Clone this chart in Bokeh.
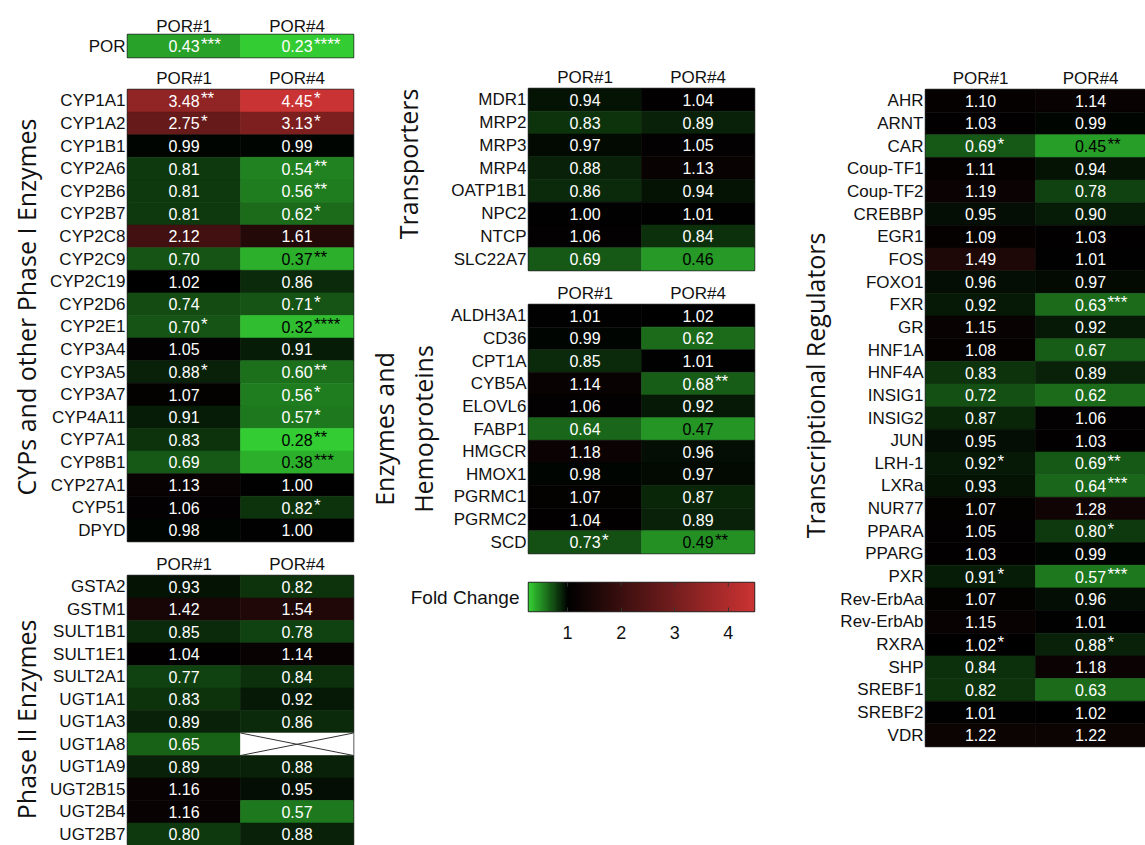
import numpy as np
from bokeh.plotting import figure
from bokeh.models import ColumnDataSource, LinearColorMapper, FactorRange, Range1d, FixedTicker, Title
from bokeh.transform import transform
from bokeh.layouts import row, column
from bokeh.embed import file_html
from bokeh.resources import INLINE
from bokeh.core.properties import value

NAN = float("nan")
SAMPLES = ["POR#1", "POR#4"]

# --- POR itself ---
por_genes = ["POR"]
por_p1 = [0.43]
por_p4 = [0.23]
por_sig1 = ["***"]
por_sig4 = ["****"]

# --- CYPs and other Phase I enzymes ---
cyp_genes = ["CYP1A1", "CYP1A2", "CYP1B1", "CYP2A6", "CYP2B6", "CYP2B7", "CYP2C8", "CYP2C9",
             "CYP2C19", "CYP2D6", "CYP2E1", "CYP3A4", "CYP3A5", "CYP3A7", "CYP4A11", "CYP7A1",
             "CYP8B1", "CYP27A1", "CYP51", "DPYD"]
cyp_p1 = [3.48, 2.75, 0.99, 0.81, 0.81, 0.81, 2.12, 0.70, 1.02, 0.74,
          0.70, 1.05, 0.88, 1.07, 0.91, 0.83, 0.69, 1.13, 1.06, 0.98]
cyp_p4 = [4.45, 3.13, 0.99, 0.54, 0.56, 0.62, 1.61, 0.37, 0.86, 0.71,
          0.32, 0.91, 0.60, 0.56, 0.57, 0.28, 0.38, 1.00, 0.82, 1.00]
cyp_sig1 = ["**", "*", "", "", "", "", "", "", "", "",
            "*", "", "*", "", "", "", "", "", "", ""]
cyp_sig4 = ["*", "*", "", "**", "**", "*", "", "**", "", "*",
            "****", "", "**", "*", "*", "**", "***", "", "*", ""]

# --- Phase II enzymes ---
ph2_genes = ["GSTA2", "GSTM1", "SULT1B1", "SULT1E1", "SULT2A1", "UGT1A1", "UGT1A3", "UGT1A8",
             "UGT1A9", "UGT2B15", "UGT2B4", "UGT2B7"]
ph2_p1 = [0.93, 1.42, 0.85, 1.04, 0.77, 0.83, 0.89, 0.65, 0.89, 1.16, 1.16, 0.80]
ph2_p4 = [0.82, 1.54, 0.78, 1.14, 0.84, 0.92, 0.86, NAN, 0.88, 0.95, 0.57, 0.88]
ph2_sig1 = [""] * 12
ph2_sig4 = [""] * 12

# --- Transporters ---
tr_genes = ["MDR1", "MRP2", "MRP3", "MRP4", "OATP1B1", "NPC2", "NTCP", "SLC22A7"]
tr_p1 = [0.94, 0.83, 0.97, 0.88, 0.86, 1.00, 1.06, 0.69]
tr_p4 = [1.04, 0.89, 1.05, 1.13, 0.94, 1.01, 0.84, 0.46]
tr_sig1 = [""] * 8
tr_sig4 = [""] * 8

# --- Enzymes and hemoproteins ---
eh_genes = ["ALDH3A1", "CD36", "CPT1A", "CYB5A", "ELOVL6", "FABP1", "HMGCR", "HMOX1",
            "PGRMC1", "PGRMC2", "SCD"]
eh_p1 = [1.01, 0.99, 0.85, 1.14, 1.06, 0.64, 1.18, 0.98, 1.07, 1.04, 0.73]
eh_p4 = [1.02, 0.62, 1.01, 0.68, 0.92, 0.47, 0.96, 0.97, 0.87, 0.89, 0.49]
eh_sig1 = ["", "", "", "", "", "", "", "", "", "", "*"]
eh_sig4 = ["", "", "", "**", "", "", "", "", "", "", "**"]

# --- Transcriptional regulators ---
tf_genes = ["AHR", "ARNT", "CAR", "Coup-TF1", "Coup-TF2", "CREBBP", "EGR1", "FOS", "FOXO1",
            "FXR", "GR", "HNF1A", "HNF4A", "INSIG1", "INSIG2", "JUN", "LRH-1", "LXRa",
            "NUR77", "PPARA", "PPARG", "PXR", "Rev-ErbAa", "Rev-ErbAb", "RXRA", "SHP",
            "SREBF1", "SREBF2", "VDR"]
tf_p1 = [1.10, 1.03, 0.69, 1.11, 1.19, 0.95, 1.09, 1.49, 0.96, 0.92, 1.15, 1.08, 0.83, 0.72,
         0.87, 0.95, 0.92, 0.93, 1.07, 1.05, 1.03, 0.91, 1.07, 1.15, 1.02, 0.84, 0.82, 1.01, 1.22]
tf_p4 = [1.14, 0.99, 0.45, 0.94, 0.78, 0.90, 1.03, 1.01, 0.97, 0.63, 0.92, 0.67, 0.89, 0.62,
         1.06, 1.03, 0.69, 0.64, 1.28, 0.80, 0.99, 0.57, 0.96, 1.01, 0.88, 1.18, 0.63, 1.02, 1.22]
tf_sig1 = ["", "", "*", "", "", "", "", "", "", "", "", "", "", "",
           "", "", "*", "", "", "", "", "*", "", "", "*", "", "", "", ""]
tf_sig4 = ["", "", "**", "", "", "", "", "", "", "***", "", "", "", "",
           "", "", "**", "***", "", "*", "", "***", "", "", "*", "", "", "", ""]

# colour scale: green below 1, black at 1, red above
CB_LOW, CB_HIGH = 0.27, 4.49
cb_ticks = [1, 2, 3, 4]
cb_title = "Fold Change"
GREEN = (51, 204, 51)
RED = (204, 51, 51)


def build_palette(n=256):
    pal = []
    for v in np.linspace(CB_LOW, CB_HIGH, n):
        if v < 1:
            f, c = (1 - v) / (1 - CB_LOW), GREEN
        else:
            f, c = (v - 1) / (CB_HIGH - 1), RED
        pal.append("#%02x%02x%02x" % tuple(int(round(ch * f)) for ch in c))
    return pal


mapper = LinearColorMapper(palette=build_palette(), low=CB_LOW, high=CB_HIGH, nan_color="white")

LABEL_FONT = "Liberation Sans"
TITLE_FONT = "Open Sans"


def heat_panel(genes, v1, v2, s1, s2, w, h, borders, light=False, head_standoff=0):
    left, right, top, bottom = borders
    n = len(genes)
    p = figure(width=w, height=h, x_range=FactorRange(factors=SAMPLES),
               y_range=FactorRange(factors=genes[::-1]), x_axis_location="above",
               toolbar_location=None, output_backend="svg",
               min_border_left=left, min_border_right=right,
               min_border_top=top, min_border_bottom=bottom)
    xs, ys, vals, labels, stars, colors = [], [], [], [], [], []
    cross = dict(x0=[], y0=[], x1=[], y1=[])
    for i, (g, a, b, sa, sb) in enumerate(zip(genes, v1, v2, s1, s2)):
        for j, (smp, v, s) in enumerate(((SAMPLES[0], a, sa), (SAMPLES[1], b, sb))):
            xs.append(smp)
            ys.append(g)
            vals.append(v)
            missing = np.isnan(v)
            labels.append("" if missing else f"{v:.2f}")
            stars.append("" if missing else s)
            colors.append("#ffffff" if (light or missing or v >= 0.5) else "#000000")
            if missing:
                yb = n - 1 - i
                cross["x0"] += [j, j]
                cross["x1"] += [j + 1, j + 1]
                cross["y0"] += [yb, yb + 1]
                cross["y1"] += [yb + 1, yb]
    src = ColumnDataSource(dict(x=xs, y=ys, val=np.array(vals, dtype=float),
                                label=labels, stars=stars, tcolor=colors))
    p.rect(x="x", y="y", width=1, height=1, source=src,
           fill_color=transform("val", mapper), line_color=transform("val", mapper),
           line_width=0.6)
    if cross["x0"]:
        p.segment(x0="x0", y0="y0", x1="x1", y1="y1", source=ColumnDataSource(cross),
                  line_color="#333333", line_width=1)
    p.text(x="x", y="y", text="label", source=src, text_font=value(LABEL_FONT),
           text_font_size="16px", text_align="center", text_baseline="middle",
           text_color="tcolor")
    p.text(x="x", y="y", text="stars", source=src, text_font=value(LABEL_FONT),
           text_font_size="17px", text_align="left", text_baseline="middle",
           text_color="tcolor", x_offset=17, y_offset=-2)
    for ax in (p.xaxis[0], p.yaxis[0]):
        ax.axis_line_color = None
        ax.major_tick_line_color = None
        ax.minor_tick_line_color = None
        ax.major_tick_out = 0
        ax.major_tick_in = 0
        ax.major_label_text_font = LABEL_FONT
        ax.major_label_text_font_size = "17px"
        ax.major_label_text_color = "#111111"
    p.xaxis.major_label_standoff = head_standoff
    p.yaxis.major_label_standoff = 2
    p.grid.visible = False
    p.outline_line_color = "#2b2b2b"
    p.outline_line_width = 1.5
    p.outline_line_alpha = 1.0
    return p


def add_title(p, text, align="right", offset=0, standoff=10, valign="bottom"):
    p.add_layout(Title(text=text, align=align, offset=offset, standoff=standoff,
                       vertical_align=valign, text_font=TITLE_FONT, text_font_size="25px",
                       text_font_style="normal", text_color="#111111"), "left")


# left column
figA = heat_panel(por_genes, por_p1, por_p4, por_sig1, por_sig4, 360, 59, (127, 7, 34, 2),
                  light=True, head_standoff=-1)
figB = heat_panel(cyp_genes, cyp_p1, cyp_p4, cyp_sig1, cyp_sig4, 360, 488, (127, 7, 30, 6),
                  head_standoff=2)
add_title(figB, "CYPs and other Phase I Enzymes", offset=29, standoff=4, valign="top")
figC = heat_panel(ph2_genes, ph2_p1, ph2_p4, ph2_sig1, ph2_sig4, 360, 298, (127, 7, 28, 0),
                  head_standoff=2)
add_title(figC, "Phase II Enzymes", offset=44, standoff=4, valign="top")

# middle column
figT = heat_panel(tr_genes, tr_p1, tr_p4, tr_sig1, tr_sig4, 410, 274, (168, 16, 88, 4),
                  head_standoff=2)
add_title(figT, "Transporters", offset=0, standoff=48)
figE = heat_panel(eh_genes, eh_p1, eh_p4, eh_sig1, eh_sig4, 410, 291, (168, 16, 30, 12),
                  head_standoff=2)
add_title(figE, "Hemoproteins", align="center", standoff=16)
add_title(figE, "Enzymes and", align="center", standoff=-10)

# colour bar
cb = figure(width=410, height=95, x_range=Range1d(CB_LOW, CB_HIGH), y_range=Range1d(0, 1),
            toolbar_location=None, output_backend="svg",
            min_border_left=168, min_border_right=16, min_border_top=17, min_border_bottom=49)
cb.image(image=[np.linspace(CB_LOW, CB_HIGH, 400).reshape(1, -1)], x=CB_LOW, y=0,
         dw=CB_HIGH - CB_LOW, dh=1, color_mapper=mapper)
cb.segment(x0=cb_ticks, y0=[1] * len(cb_ticks), x1=cb_ticks, y1=[0.86] * len(cb_ticks),
           line_color="#333333", line_width=1)
cb.grid.visible = False
cb.xaxis.ticker = FixedTicker(ticks=cb_ticks)
cb.xaxis.major_tick_in = 4
cb.xaxis.major_tick_out = 0
cb.xaxis.major_tick_line_color = "#333333"
cb.xaxis.minor_tick_line_color = None
cb.xaxis.axis_line_color = None
cb.xaxis.major_label_standoff = 14
cb.xaxis.major_label_text_font = LABEL_FONT
cb.xaxis.major_label_text_font_size = "18px"
cb.xaxis.major_label_text_color = "#111111"
# the scale's caption sits as the single label of the vertical axis
cb.yaxis.ticker = FixedTicker(ticks=[0.5])
cb.yaxis.major_label_overrides = {0.5: cb_title}
cb.yaxis.major_tick_line_color = None
cb.yaxis.minor_tick_line_color = None
cb.yaxis.axis_line_color = None
cb.yaxis.major_tick_out = 0
cb.yaxis.major_label_standoff = 9
cb.yaxis.major_label_text_font = LABEL_FONT
cb.yaxis.major_label_text_font_size = "19px"
cb.yaxis.major_label_text_color = "#111111"
cb.outline_line_color = "#2b2b2b"
cb.outline_line_width = 1.5
cb.outline_line_alpha = 1.0

# right column
figR = heat_panel(tf_genes, tf_p1, tf_p4, tf_sig1, tf_sig4, 375, 845, (155, 0, 89, 99),
                  head_standoff=2)
add_title(figR, "Transcriptional Regulators", offset=143, standoff=11)

layout = row(column(figA, figB, figC), column(figT, figE, cb), figR)
open("out.html", "w").write(file_html(layout, INLINE))
